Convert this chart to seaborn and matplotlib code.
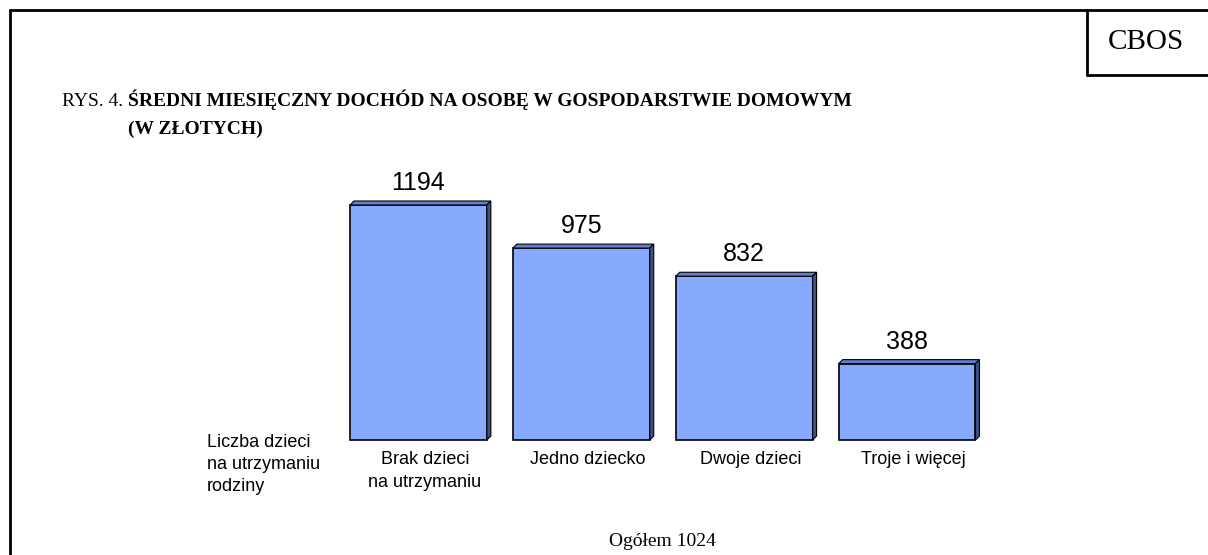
import matplotlib
matplotlib.use("Agg")
import matplotlib.pyplot as plt
import seaborn as sns
from matplotlib.patches import Polygon
from matplotlib.lines import Line2D

categories = ["Brak dzieci\nna utrzymaniu", "Jedno dziecko", "Dwoje dzieci", "Troje i więcej"]
values = [1194, 975, 832, 388]
total_label = "Ogółem 1024"
axis_note = "Liczba dzieci\nna utrzymaniu\nrodziny"
title_prefix = "RYS. 4. "
title_bold = "ŚREDNI MIESIĘCZNY DOCHÓD NA OSOBĘ W GOSPODARSTWIE DOMOWYM"
title_bold2 = "(W ZŁOTYCH)"
source = "CBOS"

FACE = "#87aaff"
TOP = "#5f7fd0"
SIDE = "#3d5088"

sns.set_theme(style="white")
plt.rcParams["font.family"] = ["Liberation Sans", "DejaVu Sans"]

W, H = 1208, 555
fig = plt.figure(figsize=(W / 100, H / 100), dpi=100)
fig.patch.set_facecolor("white")


def px(x, y):
    # pixel coords (from top-left) -> figure fraction
    return x / W, 1 - y / H


# chart area
ax_left, ax_right = 337, 988.5
base_y = 440
ymax = 1400
scale = 235 / 1194  # px per unit
ax_h = ymax * scale
ax = fig.add_axes([ax_left / W, (H - base_y) / H, (ax_right - ax_left) / W, ax_h / H])

sns.barplot(x=list(range(len(values))), y=values, color=FACE, width=0.84,
            saturation=1, ax=ax)
for p in ax.patches:
    p.set_edgecolor("black")
    p.set_linewidth(1.2)
    p.set_clip_on(False)
ax.set_xlim(-0.5, len(values) - 0.5)
ax.set_ylim(0, ymax)
ax.axis("off")

dx = 4 / ((ax_right - ax_left) / len(values))
dy = 4 / scale
half = 0.42
for i, v in enumerate(values):
    x0, x1 = i - half, i + half
    top = Polygon([(x0, v), (x1, v), (x1 + dx, v + dy), (x0 + dx, v + dy)],
                  closed=True, facecolor=TOP, edgecolor="black", linewidth=0.8,
                  clip_on=False)
    side = Polygon([(x1, 0), (x1 + dx, dy), (x1 + dx, v + dy), (x1, v)],
                   closed=True, facecolor=SIDE, edgecolor="black", linewidth=0.8,
                   clip_on=False)
    ax.add_patch(top)
    ax.add_patch(side)
    ax.text(i, v + 76, f"{v}", ha="center", va="baseline", fontsize=18,
            color="black")
    ax.text(i + 0.04, -58, categories[i], ha="center", va="top", fontsize=13,
            linespacing=1.4, color="black")

# left note
fig.text(*px(207, 434), axis_note, ha="left", va="top", fontsize=13,
         linespacing=1.4, color="black")

# titles
serif = ["Liberation Serif", "DejaVu Serif"]
t1 = fig.text(*px(62, 106), title_prefix, ha="left", va="baseline", fontsize=14,
              family=serif, color="black")
fig.canvas.draw()
bb = t1.get_window_extent()
fig.text(bb.x1 / W, 1 - 106 / H, title_bold, ha="left", va="baseline",
         fontsize=14, fontweight="bold", family=serif, color="black")
fig.text(bb.x1 / W, 1 - 134 / H, title_bold2, ha="left", va="baseline",
         fontsize=14, fontweight="bold", family=serif, color="black")

fig.text(*px(662, 541), total_label, ha="center", va="center", fontsize=14,
         family=serif, color="black")

# frame and source box
fig.text(*px(1146, 42), source, ha="center", va="center", fontsize=21,
         family=serif, color="black")
lines = [
    ([10, W], [10, 10]),
    ([10, 10], [10, H]),
    ([1087, 1087], [10, 75]),
    ([1087, W], [75, 75]),
]
for xs, ys in lines:
    fig.add_artist(Line2D([x / W for x in xs], [1 - y / H for y in ys],
                          color="black", linewidth=2))

fig.savefig("out.png", dpi=100)
